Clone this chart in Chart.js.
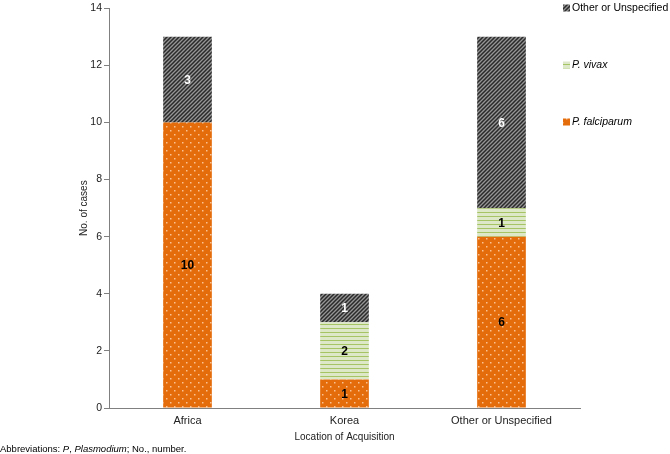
<!DOCTYPE html>
<html>
<head>
<meta charset="utf-8">
<script src="https://cdn.jsdelivr.net/npm/chart.js@4.4.1/dist/chart.umd.min.js"></script>
<style>
  html, body { margin: 0; padding: 0; background: #fff; }
  #wrap { width: 670px; height: 454px; position: relative; }
</style>
</head>
<body>
<div id="wrap"><canvas id="chart" width="670" height="454"></canvas></div>
<script>
// ---------------- DATA ----------------
const categories = ["Africa", "Korea", "Other or Unspecified"];
const falciparum = [10, 1, 6];
const vivax = [0, 2, 1];
const otherSpecies = [3, 1, 6];
const yTicks = [0, 2, 4, 6, 8, 10, 12, 14];

const FONT = "'Liberation Sans', Arial, sans-serif";

// ---------------- PATTERNS ----------------
function makePattern(w, h, draw) {
    const c = document.createElement("canvas");
    c.width = w;
    c.height = h;
    draw(c.getContext("2d"));
    return c.getContext("2d").createPattern(c, "repeat");
}

const orangeFill = makePattern(8, 8, ctx => {
    ctx.fillStyle = "#e46c0a";
    ctx.fillRect(0, 0, 8, 8);
    ctx.fillStyle = "rgba(255,215,180,0.8)";
    ctx.fillRect(2, 2, 1.5, 1.5);
    ctx.fillRect(6, 6, 1.5, 1.5);
});

const greenFill = makePattern(4, 4, ctx => {
    ctx.fillStyle = "#dde8c8";
    ctx.fillRect(0, 0, 4, 4);
    ctx.fillStyle = "#a6c464";
    ctx.fillRect(0, 0, 4, 1);
});

const darkFill = makePattern(4, 4, ctx => {
    ctx.fillStyle = "#959595";
    ctx.fillRect(0, 0, 4, 4);
    ctx.strokeStyle = "#2a2a2a";
    ctx.lineWidth = 1.5;
    ctx.beginPath();
    ctx.moveTo(-1, 5); ctx.lineTo(5, -1);
    ctx.moveTo(-1, 1); ctx.lineTo(1, -1);
    ctx.moveTo(3, 5); ctx.lineTo(5, 3);
    ctx.stroke();
});

// ---------------- PLUGINS ----------------
const valueLabels = {
    id: "valueLabels",
    afterDatasetsDraw(chart) {
        const ctx = chart.ctx;
        ctx.save();
        ctx.textAlign = "center";
        ctx.textBaseline = "middle";
        ctx.font = "bold 12px " + FONT;
        chart.data.datasets.forEach((ds, i) => {
            const meta = chart.getDatasetMeta(i);
            meta.data.forEach((bar, j) => {
                const v = ds.data[j];
                if (!v) return;
                const mid = (bar.y + bar.base) / 2;
                ctx.fillStyle = ds.labelColor;
                ctx.fillText(String(v), bar.x, mid + 1);
            });
        });
        ctx.restore();
    }
};

const sideLegend = {
    id: "sideLegend",
    afterDraw(chart) {
        const ctx = chart.ctx;
        const items = [
            { text: "Other or Unspecified", fill: darkFill, italic: false, y: 8 },
            { text: "P. vivax", fill: greenFill, italic: true, y: 65 },
            { text: "P. falciparum", fill: orangeFill, italic: true, y: 122 }
        ];
        ctx.save();
        ctx.textBaseline = "middle";
        ctx.textAlign = "left";
        items.forEach(it => {
            ctx.fillStyle = it.fill;
            ctx.fillRect(563, it.y - 3.5, 7, 7);
            ctx.fillStyle = "#000";
            ctx.font = (it.italic ? "italic " : "") + "10.5px " + FONT;
            ctx.fillText(it.text, 572, it.y);
        });
        ctx.restore();
    }
};

const footnote = {
    id: "footnote",
    afterDraw(chart) {
        const ctx = chart.ctx;
        const parts = [
            ["Abbreviations: ", false],
            ["P", true],
            [", ", false],
            ["Plasmodium", true],
            ["; No., number.", false]
        ];
        ctx.save();
        ctx.textBaseline = "middle";
        ctx.fillStyle = "#000";
        let x = 0;
        parts.forEach(([t, it]) => {
            ctx.font = (it ? "italic " : "") + "9.5px " + FONT;
            ctx.fillText(t, x, 449);
            x += ctx.measureText(t).width;
        });
        ctx.restore();
    }
};

// ---------------- CHART ----------------
new Chart("chart", {
    type: "bar",
    data: {
        labels: categories,
        datasets: [
            { label: "P. falciparum", data: falciparum, backgroundColor: orangeFill, labelColor: "#000" },
            { label: "P. vivax", data: vivax, backgroundColor: greenFill, labelColor: "#000" },
            { label: "Other or Unspecified", data: otherSpecies, backgroundColor: darkFill, labelColor: "#fff" }
        ]
    },
    options: {
        responsive: false,
        animation: false,
        devicePixelRatio: 1,
        categoryPercentage: 1,
        barPercentage: 0.31,
        layout: { padding: { top: 4, right: 90, left: 0, bottom: 0 } },
        plugins: {
            legend: { display: false },
            tooltip: { enabled: false }
        },
        scales: {
            x: {
                stacked: true,
                grid: { display: false, drawTicks: false },
                border: { color: "#808080", width: 1 },
                ticks: { color: "#222", font: { family: FONT, size: 11 }, padding: 6 },
                title: {
                    display: true,
                    text: "Location of Acquisition",
                    color: "#222",
                    font: { family: FONT, size: 10 },
                    padding: { top: 0, bottom: 11 }
                },
                afterFit(scale) { scale.height = 46; }
            },
            y: {
                stacked: true,
                min: 0,
                max: 14,
                afterBuildTicks(scale) { scale.ticks = yTicks.map(v => ({ value: v })); },
                grid: { drawOnChartArea: false, drawTicks: true, tickLength: 5, color: "#808080" },
                border: { color: "#808080", width: 1 },
                ticks: { color: "#222", font: { family: FONT, size: 10.5 }, padding: 2 },
                title: {
                    display: true,
                    text: "No. of cases",
                    color: "#222",
                    font: { family: FONT, size: 10 },
                    padding: { top: 78, bottom: 0 }
                },
                afterFit(scale) { scale.width = 109; }
            }
        }
    },
    plugins: [valueLabels, sideLegend, footnote]
});
</script>
</body>
</html>
